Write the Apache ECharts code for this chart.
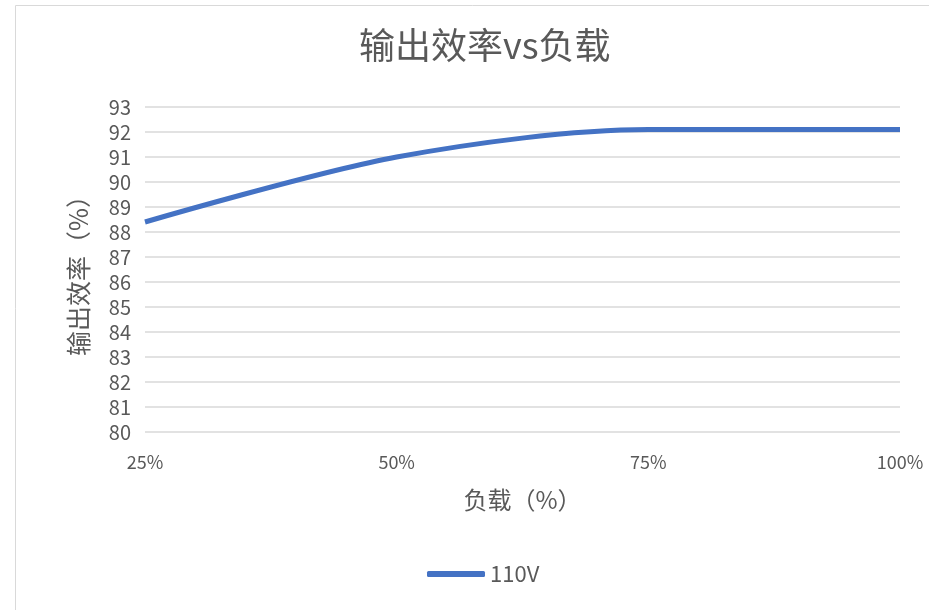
<!DOCTYPE html>
<html>
<head>
<meta charset="utf-8">
<script src="https://cdn.jsdelivr.net/npm/echarts@6/dist/echarts.min.js"></script>
<style>
  html, body { margin: 0; padding: 0; background: #fff; }
  #chart { width: 929px; height: 610px; }
</style>
</head>
<body>
<div id="chart"></div>
<script>
const chart = echarts.init(document.getElementById("chart"));

const loads = ["25%", "50%", "75%", "100%"];
const eff110 = [88.4, 91.0, 92.1, 92.1];

const FONT = "'Noto Sans CJK SC', sans-serif";
const TEXT = "#595959";

chart.setOption({
  textStyle: { fontFamily: FONT, color: TEXT },
  title: {
    text: "输出效率vs负载",
    left: 354,
    top: 22,
    textStyle: { fontSize: 36, fontWeight: "normal", color: TEXT, fontFamily: FONT }
  },
  graphic: [{
    type: "rect",
    shape: { x: 15.5, y: 5.5, width: 1000, height: 1000 },
    style: { fill: "none", stroke: "#d9d9d9", lineWidth: 1 },
    silent: true
  }],
  grid: { left: 145, right: 29, top: 107, bottom: 178 },
  xAxis: {
    type: "category",
    data: loads,
    boundaryGap: false,
    name: "负载（%）",
    nameLocation: "middle",
    nameGap: 56,
    nameTextStyle: { fontSize: 24, color: TEXT, fontFamily: FONT },
    axisLine: { show: false },
    axisTick: { show: false },
    axisLabel: { fontSize: 18, color: TEXT, margin: 21, fontFamily: FONT }
  },
  yAxis: {
    type: "value",
    min: 80,
    max: 93,
    interval: 1,
    name: "输出效率（%）",
    nameLocation: "middle",
    nameGap: 54,
    nameTextStyle: { fontSize: 25, color: TEXT, fontFamily: FONT },
    axisLabel: { fontSize: 20, color: TEXT, margin: 14, fontFamily: FONT },
    splitLine: { lineStyle: { color: "#d9d9d9", width: 1.5 } }
  },
  legend: {
    bottom: 20,
    left: 422,
    itemWidth: 58,
    itemHeight: 6,
    itemGap: 6,
    icon: "roundRect",
    textStyle: { fontSize: 22, color: TEXT, fontFamily: FONT },
    data: ["110V"]
  },
  series: [{
    name: "110V",
    type: "line",
    smooth: 0.3,
    symbol: "none",
    data: eff110,
    lineStyle: { color: "#4472c4", width: 5 },
    itemStyle: { color: "#4472c4" }
  }]
});
</script>
</body>
</html>
